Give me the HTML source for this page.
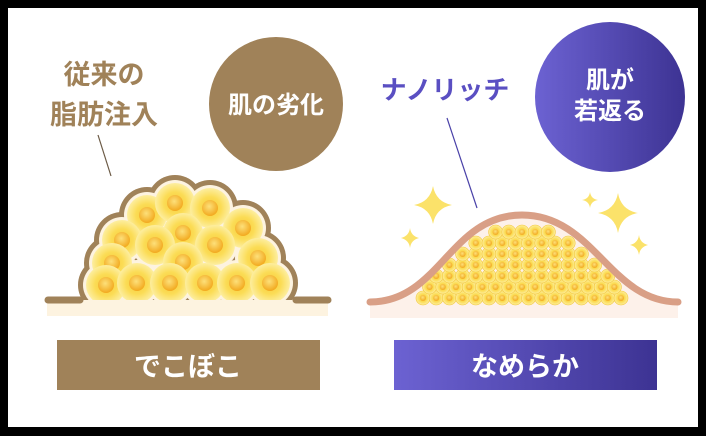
<!DOCTYPE html>
<html><head><meta charset="utf-8"><style>
html,body{margin:0;padding:0;background:#000;}
body{width:706px;height:436px;position:relative;overflow:hidden;font-family:"Liberation Sans","Noto Sans CJK JP",sans-serif;}
.panel{position:absolute;left:8px;top:8px;width:690px;height:419px;background:#fff;}
svg{position:absolute;left:0;top:0;}
</style></head><body>
<div class="panel"></div>
<svg width="706" height="436" viewBox="0 0 706 436" xmlns="http://www.w3.org/2000/svg">
<defs>
<radialGradient id="cell" cx="50%" cy="50%" r="50%">
<stop offset="0" stop-color="#f8c93a"/><stop offset="0.55" stop-color="#fbdc55"/><stop offset="1" stop-color="#fdeea0"/>
</radialGradient>
<radialGradient id="nuc" cx="45%" cy="40%" r="60%">
<stop offset="0" stop-color="#fde07a"/><stop offset="1" stop-color="#f2a91e"/>
</radialGradient>
<linearGradient id="pur" x1="0" y1="0" x2="1" y2="0">
<stop offset="0" stop-color="#6c62d2"/><stop offset="1" stop-color="#3d3393"/>
</linearGradient>
<clipPath id="above"><rect x="0" y="0" width="706" height="300"/></clipPath>
</defs>

<circle cx="276" cy="104" r="67" fill="#a08259"/>
<text x="276" y="113" text-anchor="middle" font-size="24" font-weight="bold" fill="#fff">肌の劣化</text>
<text x="104" y="84" text-anchor="middle" font-size="27" font-weight="bold" fill="#a08259">従来の</text>
<text x="104" y="124" text-anchor="middle" font-size="27" font-weight="bold" fill="#a08259">脂肪注入</text>
<line x1="98" y1="135" x2="111" y2="176" stroke="#6b5a45" stroke-width="1.2"/>

<rect x="47" y="300" width="281" height="16" fill="#fdf3e0"/>
<g clip-path="url(#above)" id="mound"></g>
<line x1="48" y1="300" x2="80" y2="300" stroke="#a08259" stroke-width="7" stroke-linecap="round"/>
<line x1="296" y1="300" x2="328" y2="300" stroke="#a08259" stroke-width="7" stroke-linecap="round"/>

<rect x="57" y="340" width="263" height="50" fill="#a08259"/>
<text x="188" y="376" text-anchor="middle" font-size="27" font-weight="bold" fill="#fff">でこぼこ</text>

<circle cx="610" cy="97" r="75" fill="url(#pur)"/>
<text x="610" y="88" text-anchor="middle" font-size="24" font-weight="bold" fill="#fff">肌が</text>
<text x="610" y="119" text-anchor="middle" font-size="24" font-weight="bold" fill="#fff">若返る</text>
<text x="445" y="99" text-anchor="middle" font-size="26" font-weight="bold" fill="#5a4fc2">ナノリッチ</text>
<line x1="447" y1="118" x2="477" y2="208" stroke="#4a42a8" stroke-width="1.2"/>

<rect x="370" y="300" width="308" height="18" fill="#fdf1ea"/>
<path d="M370 300 C440 300 450 213 522 213 C594 213 610 300 678 300 Z" fill="#fdf1ea"/>
<g id="small"></g>
<path d="M370 302 C440 302 450 215 522 215 C594 215 610 302 678 302" fill="none" stroke="#d99f86" stroke-width="7" stroke-linecap="round"/>

<g fill="#fbe26a">
<path d="M433 186 Q436 202 452 205 Q436 208 433 224 Q430 208 414 205 Q430 202 433 186Z"/>
<path d="M410 228 Q411 236 419 238 Q411 240 410 248 Q409 240 401 238 Q409 236 410 228Z"/>
<path d="M618 193 Q621 210 638 213 Q621 216 618 233 Q615 216 598 213 Q615 210 618 193Z"/>
<path d="M590 192 Q591 199 598 200 Q591 201 590 208 Q589 201 582 200 Q589 199 590 192Z"/>
<path d="M639 235 Q640 243 648 245 Q640 247 639 255 Q638 247 630 245 Q638 243 639 235Z"/>
</g>

<rect x="394" y="340" width="263" height="50" fill="url(#pur)"/>
<text x="525" y="376" text-anchor="middle" font-size="27" font-weight="bold" fill="#fff">なめらか</text>
</svg>
<script>
var NS="http://www.w3.org/2000/svg";
function c(g,x,y,r,f,s){var e=document.createElementNS(NS,"circle");e.setAttribute("cx",x);e.setAttribute("cy",y);e.setAttribute("r",r);e.setAttribute("fill",f);if(s){e.setAttribute("stroke",s);e.setAttribute("stroke-width","0.6");}g.appendChild(e);}
var P=[[147,215],[175,203],[210,208],[122,240],[183,233],[243,228],[155,245],[215,245],[112,263],[183,262],[258,258],[106,285],[137,283],[170,283],[205,283],[237,283],[270,283]];
var m=document.getElementById("mound");
P.forEach(function(p){c(m,p[0],p[1],28,"#a08259");});
P.forEach(function(p){c(m,p[0],p[1],23,"#fdf3e0");});
P.forEach(function(p){c(m,p[0],p[1],20,"url(#cell)");c(m,p[0],p[1],8,"url(#nuc)");});
var s=document.getElementById("small");
var rows=[[298,16],[287,15],[276,14],[265,12],[254,10],[243,8],[232,5]];
var sp=13.2;
rows.forEach(function(r){var x0=522-(r[1]-1)*sp/2;for(var k=0;k<r[1];k++){var x=x0+k*sp;c(s,x,r[0],7,"url(#cell)","#f3c83a");c(s,x,r[0],3,"url(#nuc)");}});
</script>
</body></html>
